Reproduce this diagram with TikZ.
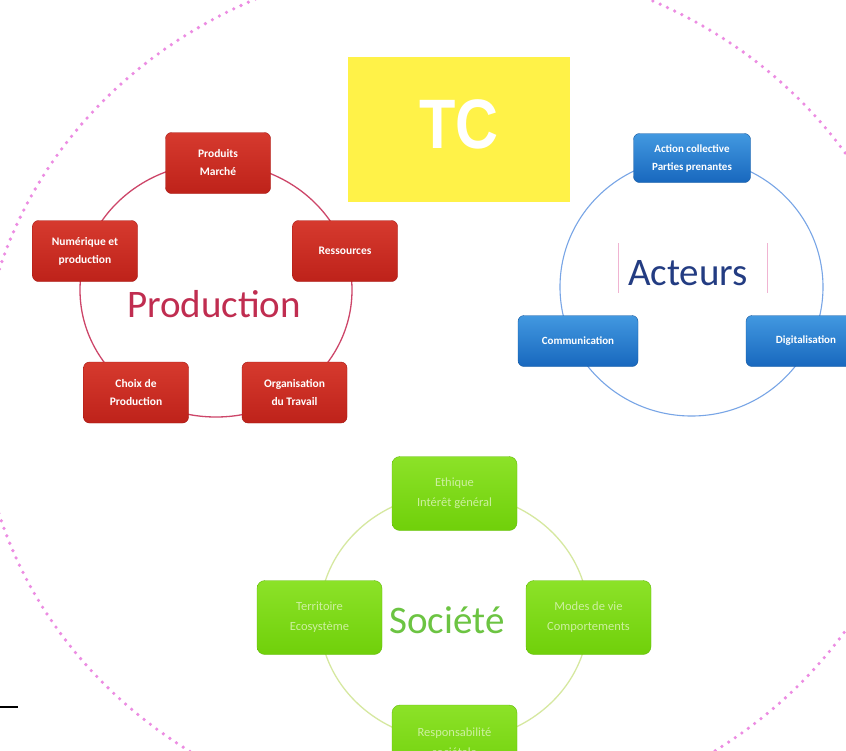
\documentclass[tikz,border=0pt]{standalone}
\usepackage{fontspec}
\setmainfont{Carlito}
\newfontfamily\tcfont[FakeStretch=0.85]{Liberation Sans}
\definecolor{prodred}{RGB}{190,34,26}
\definecolor{prodredtop}{RGB}{214,58,46}
\definecolor{prodreddark}{RGB}{165,22,18}
\definecolor{prodring}{RGB}{205,70,105}
\definecolor{prodtext}{RGB}{192,45,80}
\definecolor{actblue}{RGB}{24,104,190}
\definecolor{actbluetop}{RGB}{66,152,224}
\definecolor{actbluedark}{RGB}{20,88,160}
\definecolor{actring}{RGB}{120,165,230}
\definecolor{acttext}{RGB}{35,60,130}
\definecolor{actbar}{RGB}{240,180,210}
\definecolor{socgreen}{RGB}{112,208,10}
\definecolor{socgreentop}{RGB}{140,226,40}
\definecolor{socgreendark}{RGB}{100,188,10}
\definecolor{socring}{RGB}{214,232,160}
\definecolor{soctext}{RGB}{108,196,66}
\definecolor{soclabel}{RGB}{205,240,160}
\definecolor{tcyellow}{RGB}{255,242,72}
\definecolor{dotpink}{RGB}{236,140,226}

\begin{document}
\begin{tikzpicture}[x=1pt,y=-1pt,
  prod node/.style={rectangle,rounded corners=6pt,draw=prodreddark,top color=prodredtop,bottom color=prodred,minimum width=105pt,minimum height=61pt,align=center,text=white,font=\fontsize{11.5}{18}\selectfont\bfseries},
  act node/.style={rectangle,rounded corners=6pt,draw=actbluedark,top color=actbluetop,bottom color=actblue,minimum width=120pt,minimum height=51pt,align=center,text=white,font=\fontsize{11}{18}\selectfont\bfseries},
  soc node/.style={rectangle,rounded corners=8pt,draw=socgreendark,top color=socgreentop,bottom color=socgreen,minimum width=125pt,minimum height=74pt,align=center,text=soclabel,font=\fontsize{12.5}{20}\selectfont},
  title/.style={anchor=base,font=\fontsize{39}{39}\selectfont}]

  \useasboundingbox (0,0) rectangle (846,750);
  \clip (0,0) rectangle (846,750);
  \fill[white] (0,0) rectangle (846,750);

  \coordinate (mid) at (452,392);
  \draw[dotpink,line width=3.6pt,line cap=round,dash pattern=on 0pt off 8pt] (mid) ellipse [x radius=472pt, y radius=432pt];

  \node[rectangle,fill=tcyellow,minimum width=222pt,minimum height=145pt,text depth=11pt,text=white,font=\tcfont\fontsize{70}{70}\selectfont\bfseries] (tc) at (459,129.5) {TC};

  \coordinate (prod) at (216,290);
  \draw[prodring,line width=1.3pt] (prod) ellipse [x radius=136pt, y radius=127pt];
  \node[prod node] (p1) at (218,163) {Produits\\Marché};
  \node[prod node] (p2) at (345,251) {Ressources};
  \node[prod node] (p3) at (294.5,392.5) {Organisation\\du Travail};
  \node[prod node] (p4) at (136,392.5) {Choix de\\Production};
  \node[prod node] (p5) at (85,251) {Numérique et\\production};
  \node[title,text=prodtext] (ptitle) at (214,317) {Production};

  \coordinate (act) at (691.5,287);
  \draw[actring,line width=1.1pt] (act) ellipse [x radius=131.5pt, y radius=129pt];
  \draw[actbar,line width=0.8pt] (618,243) -- (618,293) (767,243) -- (767,293);
  \node[act node,minimum width=117pt,minimum height=49pt] (a1) at (692,158) {Action collective\\Parties prenantes};
  \node[act node] (a2) at (806,341) {Digitalisation};
  \node[act node] (a3) at (578,341) {Communication};
  \node[title,text=acttext] (atitle) at (688,285) {Acteurs};

  \coordinate (soc) at (454,617);
  \draw[socring,line width=1.3pt] (soc) ellipse [x radius=134.5pt, y radius=124pt];
  \node[soc node] (s1) at (454.5,493.5) {Ethique\\Intérêt général};
  \node[soc node] (s2) at (588.5,617.5) {Modes de vie\\Comportements};
  \node[soc node] (s3) at (454.5,742) {Responsabilité\\sociétale};
  \node[soc node] (s4) at (319.5,617.5) {Territoire\\Ecosystème};
  \node[title,text=soctext] (stitle) at (447,633) {Société};

  \draw[line width=2pt] (0,707) -- (18,707);
\end{tikzpicture}
\end{document}
